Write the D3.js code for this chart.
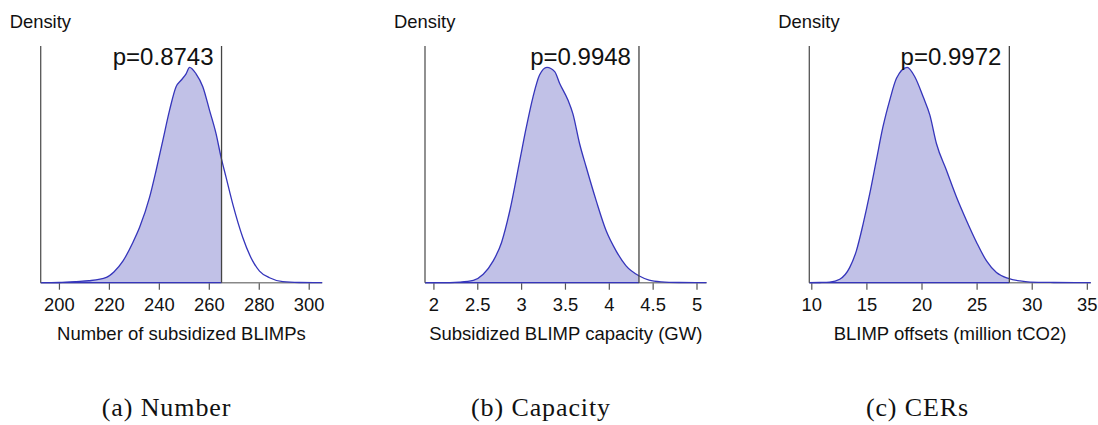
<!DOCTYPE html>
<html><head><meta charset="utf-8">
<script src="https://cdn.jsdelivr.net/npm/d3@7"></script>
<style>html,body{margin:0;padding:0;background:#fff;}svg{display:block;}</style>
</head><body>
<svg id="chart" width="1098" height="425"></svg>
<script>
// ---- data ----
const xTitles = ["Number of subsidized BLIMPs", "Subsidized BLIMP capacity (GW)", "BLIMP offsets (million tCO2)"];
const captions = ["(a) Number", "(b) Capacity", "(c) CERs"];
const pLabels = ["p=0.8743", "p=0.9948", "p=0.9972"];
const cutoffs = [265.1, 4.344, 27.97];
const xDomains = [[192.7, 305.4], [1.904, 5.114], [9.82, 35.36]];
const ticks1 = [200, 220, 240, 260, 280, 300];
const ticks2 = [2, 2.5, 3, 3.5, 4, 4.5, 5];
const ticks3 = [10, 15, 20, 25, 30, 35];
// density curves (x value, relative density)
const dens1x = [192.7,200,207,212,219,222,225.6,229.6,232.3,236.3,238.9,241.6,244.3,246.9,248.9,250.9,252.3,254.9,257.6,260.3,262.9,264.9,266.9,269.6,273.6,277.6,280.3,284.3,289.6,296.3,305.4];
const dens1y = [0,0.001,0.005,0.009,0.025,0.05,0.10,0.187,0.257,0.397,0.521,0.661,0.801,0.91,0.94,0.97,1,0.97,0.91,0.80,0.692,0.583,0.49,0.365,0.21,0.10,0.054,0.023,0.005,0.001,0];
const dens2x = [1.904,2.076,2.30,2.455,2.568,2.68,2.777,2.871,2.985,3.06,3.136,3.21,3.295,3.383,3.44,3.534,3.59,3.667,3.742,3.856,3.97,4.083,4.197,4.348,4.46,4.6,4.8,5.114];
const dens2y = [0,0,0.003,0.011,0.039,0.10,0.187,0.334,0.568,0.723,0.863,0.964,1,0.98,0.925,0.848,0.785,0.645,0.537,0.381,0.241,0.148,0.078,0.031,0.012,0.004,0.001,0];
const dens3x = [9.82,10.76,11.67,12.58,13.48,14.09,14.7,15.3,15.9,16.5,17.12,17.73,18.7,19.39,20.15,20.76,21.36,22.27,23.18,24.09,25,25.9,26.8,27.88,28.94,29.85,32,35.36];
const dens3y = [0,0.001,0.003,0.016,0.07,0.148,0.272,0.412,0.568,0.723,0.848,0.949,1,0.956,0.863,0.778,0.645,0.521,0.397,0.288,0.187,0.101,0.047,0.02,0.008,0.003,0.001,0];

const panels = [
  {xs: dens1x, ys: dens1y, ticks: ticks1},
  {xs: dens2x, ys: dens2y, ticks: ticks2},
  {xs: dens3x, ys: dens3y, ticks: ticks3}
];

// ---- layout ----
const svg = d3.select("#chart");
const plotW = 281.5, panelStep = 384.3, left0 = 40.7;
const yBase = 282.7, yTop = 46;
const captionX = [166.5, 541, 917.5];
const fillCol = "#c1c1e7", lineCol = "#3535bb";
const sans = "'Liberation Sans', Arial, sans-serif";

panels.forEach((p, i) => {
  const x0 = left0 + panelStep * i;
  const x = d3.scaleLinear().domain(xDomains[i]).range([x0, x0 + plotW]);
  const y = d3.scaleLinear().domain([0, 1.099]).range([yBase, yTop]);
  const pts = p.xs.map((v, k) => [v, p.ys[k]]);
  const g = svg.append("g");

  const clipId = "clip" + i;
  svg.append("clipPath").attr("id", clipId).append("rect")
    .attr("x", x0 - 2).attr("y", 0).attr("width", x(cutoffs[i]) - x0 + 2).attr("height", 425);

  // x axis
  const axis = d3.axisBottom(x).tickValues(p.ticks).tickSize(7).tickPadding(4)
    .tickFormat(d3.format("~g"));
  const ag = g.append("g").attr("transform", `translate(0,${yBase})`).call(axis);
  ag.select(".domain").remove();
  ag.selectAll(".tick line").attr("stroke", "#555").attr("stroke-width", 1.2);
  ag.selectAll(".tick text").attr("font-family", sans).attr("font-size", 18.4).attr("fill", "#111").attr("dy", "0.95em");
  g.append("line").attr("x1", x0).attr("x2", x0 + plotW).attr("y1", yBase).attr("y2", yBase)
    .attr("stroke", "#888").attr("stroke-width", 1.5);

  // shaded area up to cutoff
  const area = d3.area().x(d => x(d[0])).y0(yBase).y1(d => y(d[1])).curve(d3.curveMonotoneX);
  g.append("path").attr("d", area(pts)).attr("fill", fillCol).attr("clip-path", `url(#${clipId})`);
  g.append("line").attr("x1", x0).attr("x2", x(cutoffs[i])).attr("y1", yBase).attr("y2", yBase)
    .attr("stroke", lineCol).attr("stroke-width", 1.3);

  // density curve
  const line = d3.line().x(d => x(d[0])).y(d => y(d[1])).curve(d3.curveMonotoneX);
  g.append("path").attr("d", line(pts)).attr("fill", "none").attr("stroke", lineCol).attr("stroke-width", 1.3);

  // vertical lines
  g.append("line").attr("x1", x0).attr("x2", x0).attr("y1", yTop).attr("y2", yBase)
    .attr("stroke", "#555").attr("stroke-width", 1.3);
  g.append("line").attr("x1", x(cutoffs[i])).attr("x2", x(cutoffs[i])).attr("y1", yTop).attr("y2", yBase)
    .attr("stroke", "#444").attr("stroke-width", 1.3);

  // labels
  g.append("text").attr("x", x(cutoffs[i]) - 8).attr("y", 65).attr("text-anchor", "end")
    .attr("font-family", sans).attr("font-size", 24).attr("fill", "#111").text(pLabels[i]);
  g.append("text").attr("x", x0 - 31).attr("y", 28.3)
    .attr("font-family", sans).attr("font-size", 18.4).attr("fill", "#111").text("Density");
  g.append("text").attr("x", x0 + plotW / 2).attr("y", 340).attr("text-anchor", "middle")
    .attr("font-family", sans).attr("font-size", 18.5).attr("fill", "#111").text(xTitles[i]);
  g.append("text").attr("x", captionX[i]).attr("y", 416).attr("text-anchor", "middle")
    .attr("font-family", "'Liberation Serif', 'Times New Roman', serif").attr("font-size", 26)
    .attr("letter-spacing", 0.9).attr("fill", "#111").text(captions[i]);
});
</script>
</body></html>
